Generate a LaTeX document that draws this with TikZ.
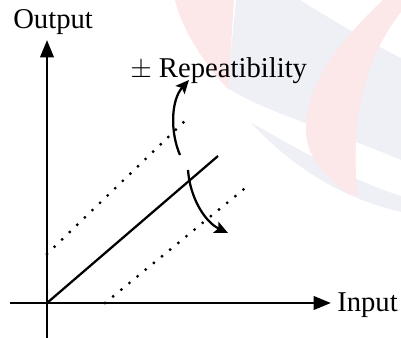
\documentclass[tikz,border=0pt]{standalone}
\usepackage{fontspec}
\setmainfont{Liberation Serif}
\usetikzlibrary{arrows.meta}
\definecolor{wmpink}{rgb}{0.988,0.906,0.914}
\definecolor{wmgray}{rgb}{0.937,0.941,0.965}
\begin{document}
\begin{tikzpicture}[x=0.75pt,y=-0.75pt,
  axis/.style={line width=2.1pt,-{Triangle[length=13pt,width=10pt]}},
  curvearrow/.style={line width=1.7pt,-{Stealth[length=10pt,width=9pt,inset=2pt]}},
  dotline/.style={line width=2.4pt,line cap=round,dash pattern=on 0pt off 7.9pt},
  lbl/.style={inner sep=0pt,anchor=base west,font=\fontsize{21.5pt}{25pt}\selectfont}]
\useasboundingbox (0,0) rectangle (401,338);
% faint watermark
\fill[wmgray] (236,0) -- (300,0) .. controls (340,25) and (375,45) .. (401,58) -- (401,160) .. controls (330,130) and (260,110) .. (228,88) .. controls (230,60) and (233,30) .. (236,0) -- cycle;
\fill[wmgray] (250,122) .. controls (300,150) and (350,180) .. (401,196) -- (401,212) .. controls (350,200) and (300,175) .. (250,122) -- cycle;
\fill[wmpink] (175,0) -- (234,0) .. controls (232,30) and (230,60) .. (229,90) .. controls (205,65) and (182,30) .. (175,0) -- cycle;
\fill[wmpink] (383,0) -- (401,0) -- (401,12) .. controls (375,45) and (358,90) .. (356,140) .. controls (355,165) and (356,180) .. (358,195) -- (350,195) .. controls (330,180) and (306,160) .. (306,130) .. controls (306,90) and (330,50) .. (383,0) -- cycle;
% axes
\coordinate (yb) at (47,338);
\coordinate (yt) at (47,40);
\coordinate (xl) at (10,303);
\coordinate (xr) at (331,303);
\coordinate (O) at (47,303);
\draw[axis] (yb) -- (yt);
\draw[axis] (xl) -- (xr);
% characteristic
\coordinate (S) at (218,156);
\draw[line width=1.7pt] (O) -- (S);
\coordinate (u1) at (47,254);
\coordinate (u2) at (190,116);
\draw[dotline] (u1) -- (u2);
\coordinate (l1) at (105,303);
\coordinate (l2) at (244,189);
\draw[dotline] (l1) -- (l2);
% curved arrows
\coordinate (a1) at (180,155);
\coordinate (a2) at (189,80);
\draw[curvearrow] (a1) .. controls (170,132) and (171,100) .. (a2);
\coordinate (b1) at (188,170);
\coordinate (b2) at (228,233);
\draw[curvearrow] (b1) .. controls (190,198) and (205,222) .. (b2);
% labels
\node[lbl] (out) at (13,29) {Output};
\node[lbl] (rep) at (130,78) {$\pm$ Repeatibility};
\node[lbl] (inp) at (337,312) {Input};
\end{tikzpicture}
\end{document}
